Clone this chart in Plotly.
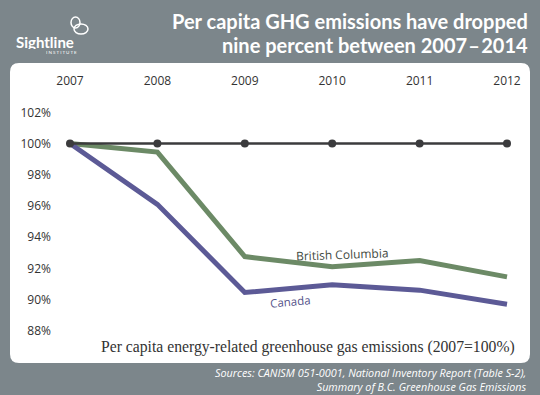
import plotly.graph_objects as go

years = [2007, 2008, 2009, 2010, 2011, 2012]
baseline = [100, 100, 100, 100, 100, 100]
bc = [100, 99.45, 92.75, 92.1, 92.5, 91.45]
canada = [100, 96.1, 90.45, 90.95, 90.6, 89.7]
y_ticks = [88, 90, 92, 94, 96, 98, 100, 102]

W, H = 540, 395
L, R, T, B = 52, 16, 88, 55
PW, PH = W - L - R, H - T - B

def px(x):
    return (x - L) / PW

def py(y):
    return (H - B - y) / PH

BG = "#7c868b"
GREEN = "#6c8a66"
PURPLE = "#5c5a96"
DARK = "#3b3b3d"

fig = go.Figure()
fig.add_trace(go.Scatter(x=years, y=bc, mode="lines", line=dict(color=GREEN, width=5), hoverinfo="skip"))
fig.add_trace(go.Scatter(x=years, y=canada, mode="lines", line=dict(color=PURPLE, width=5), hoverinfo="skip"))
fig.add_trace(go.Scatter(x=years, y=baseline, mode="lines+markers", line=dict(color=DARK, width=2.5),
                         marker=dict(color=DARK, size=8), hoverinfo="skip"))

# rounded white panel
x0, x1, y0, y1, r = 10, 530, 63, 363, 9
pts = (f"M {px(x0 + r)} {py(y0)} L {px(x1 - r)} {py(y0)} Q {px(x1)} {py(y0)} {px(x1)} {py(y0 + r)} "
       f"L {px(x1)} {py(y1 - r)} Q {px(x1)} {py(y1)} {px(x1 - r)} {py(y1)} "
       f"L {px(x0 + r)} {py(y1)} Q {px(x0)} {py(y1)} {px(x0)} {py(y1 - r)} "
       f"L {px(x0)} {py(y0 + r)} Q {px(x0)} {py(y0)} {px(x0 + r)} {py(y0)} Z")
shapes = [dict(type="path", path=pts, xref="paper", yref="paper", fillcolor="white",
               line=dict(width=0), layer="below")]
# logo loops
for (cx, cy, rx, ry) in [(75.5, 22.5, 4.5, 5.5), (81, 29, 7, 5)]:
    shapes.append(dict(type="circle", xref="paper", yref="paper",
                       x0=px(cx - rx), x1=px(cx + rx), y0=py(cy + ry), y1=py(cy - ry),
                       line=dict(color="white", width=1.5)))

def note(text, x, y, xanchor, font, yanchor="middle", angle=0, height=None, align="center"):
    d = dict(text=text, x=px(x), y=py(y), xref="paper", yref="paper", xanchor=xanchor,
             yanchor=yanchor, showarrow=False, font=font, textangle=angle, align=align)
    if height:
        d["height"] = height
    return d

title_font = dict(family="Lato", size=20, color="white", weight="bold")
src_font = dict(family="Open Sans", size=10.8, color="white", style="italic")

annotations = [
    note("Per capita GHG emissions have dropped", 530, 21, "right", title_font),
    note("nine percent between 2007\u200a\u2013\u200a2014", 530, 45, "right", title_font),
    note("Sightline", 14, 42.5, "left", dict(family="Lato", size=15, color="white", weight="bold"), height=14),
    note("I N S T I T U T E", 79, 52.5, "right", dict(family="Lato", size=4.5, color="white"), height=5),
    note("Per capita energy-related greenhouse gas emissions (2007=100%)", 517, 347, "right",
         dict(family="Liberation Serif", size=15.7, color="#333333")),
    note("Sources: CANISM 051-0001, National Inventory Report (Table S-2),<br>"
         "Summary of B.C. Greenhouse Gas Emissions", 529, 379.5, "right", src_font, align="right"),
    note("British Columbia", 342, 254, "center", dict(family="Open Sans", size=12, color="#3f4a3f"), angle=-2),
    note("Canada", 290, 301, "center", dict(family="Open Sans", size=11.5, color="#55538a"), angle=-5),
]

ppx = 87.4
ppy = 15.6
x_start = 2007 - (70 - L) / ppx
x_end = x_start + PW / ppx
y_top = 100 + (143.5 - T) / ppy
y_bot = y_top - PH / ppy

fig.update_layout(
    width=W, height=H, margin=dict(l=L, r=R, t=T, b=B),
    paper_bgcolor=BG, plot_bgcolor="rgba(0,0,0,0)",
    showlegend=False, shapes=shapes, annotations=annotations,
    xaxis=dict(range=[x_start, x_end], side="top", tickvals=years, ticktext=[str(y) for y in years],
               showgrid=False, zeroline=False, showline=False, ticks="",
               tickfont=dict(family="Open Sans", size=12, color="#333333"), fixedrange=True),
    yaxis=dict(range=[y_bot, y_top], tickvals=y_ticks, ticktext=[f"{v}%" for v in y_ticks],
               showgrid=False, zeroline=False, showline=False, ticks="",
               tickfont=dict(family="Open Sans", size=12, color="#333333"), fixedrange=True),
)

fig.write_html("out.html", config={"displayModeBar": False},
               post_script="document.body.style.margin='0px';document.body.style.overflow='hidden';")
